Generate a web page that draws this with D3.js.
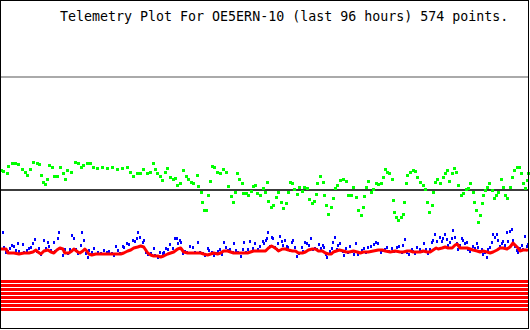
<!DOCTYPE html>
<html>
<head>
<meta charset="utf-8">
<script src="https://cdn.jsdelivr.net/npm/d3@7"></script>
<style>
  body { margin: 0; background: #fff; }
  svg { display: block; }
</style>
</head>
<body>
<div id="chart"></div>
<script>
var title = "Telemetry Plot For OE5ERN-10 (last 96 hours) 574 points.";

// time bins (0 = oldest, 528 = now) and channel values
var greenTime = [0,3,7,8,12,15,18,22,25,27,30,33,37,39,41,43,45,47,49,52,54,57,60,63,65,67,71,75,78,81,83,87,90,93,97,102,107,112,117,122,127,130,133,137,140,143,147,150,153,155,157,160,162,165,167,170,173,175,177,180,183,186,188,191,193,197,198,201,202,204,206,208,210,212,214,217,220,223,226,228,231,233,235,237,239,242,243,246,248,251,253,255,257,260,263,265,267,268,271,273,276,278,281,283,286,288,290,292,294,297,299,302,304,307,309,312,314,316,317,320,323,324,326,328,331,333,335,337,340,343,346,348,351,353,356,358,361,363,364,366,368,371,373,376,378,381,383,385,387,389,392,393,394,396,398,401,403,404,406,407,410,413,415,417,420,423,425,427,429,432,433,435,437,440,443,445,447,449,452,454,456,458,461,463,466,468,470,473,474,476,478,480,482,483,485,487,489,492,494,496,498,501,503,505,507,510,512,514,517,519,521,523,525,527,528];
var greenValue = [160,159,157,164,167,167,166,161,158,155,161,168,167,166,155,148,146,151,165,163,154,154,163,157,151,160,158,168,167,163,165,167,167,163,162,163,162,163,161,162,163,158,154,157,157,161,157,158,167,161,157,154,150,158,162,153,151,152,145,147,160,154,151,148,147,155,144,138,128,120,120,135,149,164,163,158,157,161,158,144,134,128,138,157,151,147,137,137,135,139,144,145,137,135,142,138,148,129,123,125,133,138,128,122,127,138,148,147,141,136,143,139,143,142,131,127,129,136,147,154,148,135,125,116,123,132,142,145,150,151,149,135,135,143,133,120,115,123,134,143,149,138,141,147,146,147,153,161,158,157,151,130,118,113,110,113,116,128,147,155,158,160,159,153,148,145,141,128,118,125,138,148,151,147,153,157,160,149,157,162,158,145,135,137,141,142,147,138,128,120,108,115,127,135,140,143,147,140,132,135,138,151,143,135,132,143,153,160,163,163,157,147,142,150,157];

var redTime = [0,5,7,13,18,23,28,32,35,37,40,43,47,50,53,56,59,62,64,68,71,73,77,79,82,84,86,88,91,95,100,105,110,115,120,123,127,130,133,137,140,143,145,147,150,153,157,160,163,167,170,173,177,180,183,187,190,193,197,200,203,207,210,213,217,220,223,227,230,233,237,240,243,247,250,253,257,260,265,268,271,273,276,278,282,285,288,292,295,298,302,305,308,312,315,318,322,325,328,331,333,336,339,343,346,349,353,357,360,363,368,373,378,382,385,390,395,400,403,407,410,413,417,420,423,427,430,433,436,438,442,445,448,452,455,457,460,463,467,470,473,477,480,483,487,490,493,497,500,503,507,510,513,515,518,520,523,527,528];
var redValue = [81,81,77,77,76,77,77,78,80,78,76,79,80,78,77,80,82,81,77,77,79,81,78,77,79,81,79,76,75,76,76,76,76,76,76,77,79,80,82,83,84,83,80,77,75,74,74,73,74,76,77,78,81,82,78,77,77,77,77,77,76,75,76,77,76,77,79,79,78,77,77,77,77,77,78,79,79,79,79,82,84,83,81,79,81,81,80,79,79,77,77,78,80,81,81,79,79,77,76,76,78,79,80,79,78,78,79,78,77,78,78,79,80,80,79,78,79,78,78,79,79,78,78,78,79,78,78,80,82,81,82,83,82,82,85,86,82,82,82,81,80,79,78,79,78,77,78,80,82,82,81,83,87,85,82,79,80,80,79];

var blueTime = [2,3,5,7,9,11,13,15,17,18,22,23,26,28,30,32,34,36,38,40,43,45,47,48,50,52,53,54,57,58,60,62,64,67,69,71,73,75,77,80,81,83,85,87,88,91,93,97,100,103,106,108,111,113,115,117,119,122,123,126,128,132,134,136,137,139,142,143,145,147,150,153,154,157,159,162,163,165,167,169,172,174,176,177,179,180,182,184,186,189,192,194,197,199,202,204,207,208,211,213,215,217,219,221,223,225,227,229,232,233,235,237,240,242,243,245,247,249,252,254,257,259,262,263,266,267,268,270,272,273,275,277,278,280,282,283,285,287,288,290,292,293,295,297,299,302,303,305,307,309,311,313,315,317,319,321,323,324,326,327,330,332,333,335,337,338,340,343,344,346,348,350,352,354,356,358,362,364,366,368,371,374,376,378,381,383,385,387,389,392,394,397,399,402,403,405,407,409,412,413,415,417,420,422,424,426,428,430,432,433,435,437,440,442,443,445,447,448,450,452,453,455,457,458,460,462,463,465,467,468,470,473,475,477,478,480,482,483,485,487,488,490,492,493,495,497,498,500,502,503,505,507,508,510,512,513,515,517,518,520,522,523,525,527,528];
var blueValue = [98,83,78,79,82,85,84,80,87,79,86,78,80,82,83,87,91,79,82,76,90,82,88,84,80,78,88,79,92,98,82,75,81,77,81,95,92,81,77,85,98,90,77,73,80,78,82,78,77,80,78,79,77,75,84,80,77,84,83,87,86,90,89,92,98,93,88,90,78,76,77,82,75,73,78,77,78,82,81,86,82,92,92,87,90,88,77,79,78,84,83,78,88,78,77,75,82,80,78,75,77,79,81,76,88,83,80,81,78,87,80,78,74,81,88,78,81,89,82,87,81,84,89,87,90,92,98,84,93,92,83,81,87,94,89,85,90,84,83,80,88,90,83,74,77,83,79,88,87,85,92,81,82,81,86,82,85,83,76,73,79,82,88,93,81,85,87,79,75,82,78,84,79,76,87,76,80,82,78,83,84,86,88,87,78,80,81,83,79,82,79,83,84,78,85,91,78,76,81,79,77,83,81,79,87,81,77,81,88,90,96,89,93,89,92,96,91,85,88,92,100,93,87,81,85,92,90,87,88,81,79,84,82,87,83,79,81,76,78,73,81,83,88,96,93,96,90,84,87,89,85,98,89,99,101,90,84,80,78,82,85,81,94,84,86];

// limit lines and the eight digital channels
var limitLevels = [253, 140];
var limitColors = ["#aaaaaa", "#3c3c3c"];
var bitNames = ["B1","B2","B3","B4","B5","B6","B7","B8"];
var bitStates = [1,1,1,1,1,1,1,1];

var width = 530;
var height = 330;

var svg = d3.select("#chart")
  .append("svg")
    .attr("width", width)
    .attr("height", height);

var xScale = d3.scaleLinear()
  .domain([0, 528])
  .range([1, 528]);

var yScale = d3.scaleLinear()
  .domain([0, 330])
  .range([330, 0]);

var bitScale = d3.scaleBand()
  .domain(bitNames)
  .range([280, 311])
  .paddingInner(0.25);

svg.append("rect")
  .attr("x", 0).attr("y", 0)
  .attr("width", width).attr("height", height)
  .attr("fill", "#fff");

svg.append("text")
  .attr("x", 60)
  .attr("y", 21)
  .attr("font-family", "'DejaVu Sans Mono', monospace")
  .attr("font-size", "13.3px")
  .attr("fill", "#000")
  .text(title);

svg.selectAll(".limit")
  .data(limitLevels)
  .enter().append("line")
    .attr("class", "limit")
    .attr("x1", xScale(0))
    .attr("x2", xScale(528))
    .attr("y1", function(d) { return yScale(d); })
    .attr("y2", function(d) { return yScale(d); })
    .attr("stroke", function(d, i) { return limitColors[i]; })
    .attr("stroke-width", 2)
    .attr("shape-rendering", "crispEdges");

svg.selectAll(".bit")
  .data(bitNames.filter(function(d, i) { return bitStates[i] == 1; }))
  .enter().append("rect")
    .attr("class", "bit")
    .attr("x", xScale(0))
    .attr("width", xScale(528) - xScale(0) + 1)
    .attr("y", function(d) { return bitScale(d); })
    .attr("height", bitScale.bandwidth())
    .attr("fill", "#ff0000")
    .attr("shape-rendering", "crispEdges");

function dots(times, values, color, w, h) {
  var pts = times.map(function(t, i) { return {t: t, v: values[i]}; });
  svg.append("g")
    .selectAll("rect")
    .data(pts)
    .enter().append("rect")
      .attr("x", function(d) { return xScale(d.t) - w / 2; })
      .attr("y", function(d) { return yScale(d.v) - h / 2; })
      .attr("width", w)
      .attr("height", h)
      .attr("fill", color)
      .attr("shape-rendering", "crispEdges");
}

dots(greenTime, greenValue, "#00ff00", 3, 3);
dots(blueTime, blueValue, "#0000ff", 2, 3);

var redPts = redTime.map(function(t, i) { return {t: t, v: redValue[i]}; });
var line = d3.line()
  .x(function(d) { return xScale(d.t); })
  .y(function(d) { return yScale(d.v); });

svg.append("path")
  .datum(redPts)
  .attr("d", line)
  .attr("fill", "none")
  .attr("stroke", "#ff0000")
  .attr("stroke-width", 3)
  .attr("stroke-linejoin", "round");

// frame
svg.append("rect")
  .attr("x", 0.5).attr("y", 0.5)
  .attr("width", 528).attr("height", 328)
  .attr("fill", "none")
  .attr("stroke", "#000")
  .attr("stroke-width", 1)
  .attr("shape-rendering", "crispEdges");
</script>
</body>
</html>
